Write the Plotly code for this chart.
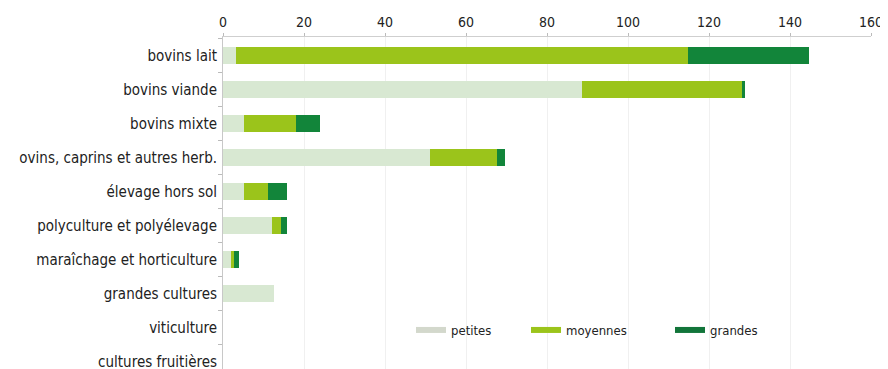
import plotly.graph_objects as go

categories = ["bovins lait", "bovins viande", "bovins mixte", "ovins, caprins et autres herb.",
              "élevage hors sol", "polyculture et polyélevage", "maraîchage et horticulture",
              "grandes cultures", "viticulture", "cultures fruitières"]
petites = [3.3, 88.6, 5.2, 51.0, 5.2, 12.1, 1.9, 12.5, 0, 0]
moyennes = [111.5, 39.6, 12.8, 16.7, 5.9, 2.1, 0.9, 0, 0, 0]
grandes = [29.8, 0.6, 6.0, 1.9, 4.8, 1.7, 1.2, 0, 0, 0]
series_names = ["petites", "moyennes", "grandes"]
x_ticks = [0, 20, 40, 60, 80, 100, 120, 140, 160]

colors = ["#d8e8d2", "#9bc41b", "#12853a"]
legend_colors = ["#d3d8cc", "#9bc41b", "#12753a"]
FONT = "DejaVu Sans Condensed, Liberation Sans, sans-serif"

# the page body has an 8px default margin; lay the figure out in page coordinates minus 8
OFF = 8
W, H = 888 - OFF, 369 - OFF
L = 223 - OFF          # plot left at page x=223
T = 37 - OFF           # plot top at page y=37
R = 17                 # plot right at page x=871
B = 0
pw = W - L - R
ph = H - T - B

fig = go.Figure()
for name, vals, col in zip(series_names, [petites, moyennes, grandes], colors):
    fig.add_trace(go.Bar(y=categories, x=vals, orientation="h", name=name,
                         marker=dict(color=col, line=dict(width=0)), showlegend=False))

legend_ids = ["legend", "legend2", "legend3"]
legend_x = [417, 532, 676]
for name, col, lid in zip(series_names, legend_colors, legend_ids):
    fig.add_trace(go.Scatter(x=[None], y=[None], mode="lines", name=name,
                             line=dict(color=col, width=6), legend=lid, showlegend=True))

legend_common = dict(bgcolor="rgba(0,0,0,0)", font=dict(family=FONT, size=13, color="#222"),
                     yanchor="middle", xanchor="left", itemwidth=30,
                     tracegroupgap=0)
layout_legends = {}
for lid, lx in zip(legend_ids, legend_x):
    layout_legends[lid] = dict(legend_common, x=(lx - OFF - L - 6) / pw,
                               y=(H - (330 - OFF) - B) / ph)

fig.update_layout(
    width=W, height=H,
    margin=dict(l=L, r=R, t=T, b=B, autoexpand=False),
    barmode="stack", bargap=0.52,
    plot_bgcolor="white", paper_bgcolor="white",
    font=dict(family=FONT, color="#222"),
    xaxis=dict(side="top", range=[0, 160], tickvals=x_ticks, showgrid=True,
               gridcolor="#f0f0f0", gridwidth=1, showline=True, linecolor="#cfcfcf",
               ticks="outside", ticklen=3, tickcolor="#bbb", zeroline=False,
               automargin=False,
               tickfont=dict(family=FONT, size=14, color="#222")),
    yaxis=dict(range=[9.22, -0.545], showline=True, linecolor="#c8c8c8",
               ticks="outside", ticklen=4, tickcolor="#bbb", tickson="boundaries",
               showgrid=False, automargin=False,
               tickfont=dict(family=FONT, size=15, color="#222"),
               ticklabelstandoff=2),
    **layout_legends,
)
fig.write_html("out.html")
